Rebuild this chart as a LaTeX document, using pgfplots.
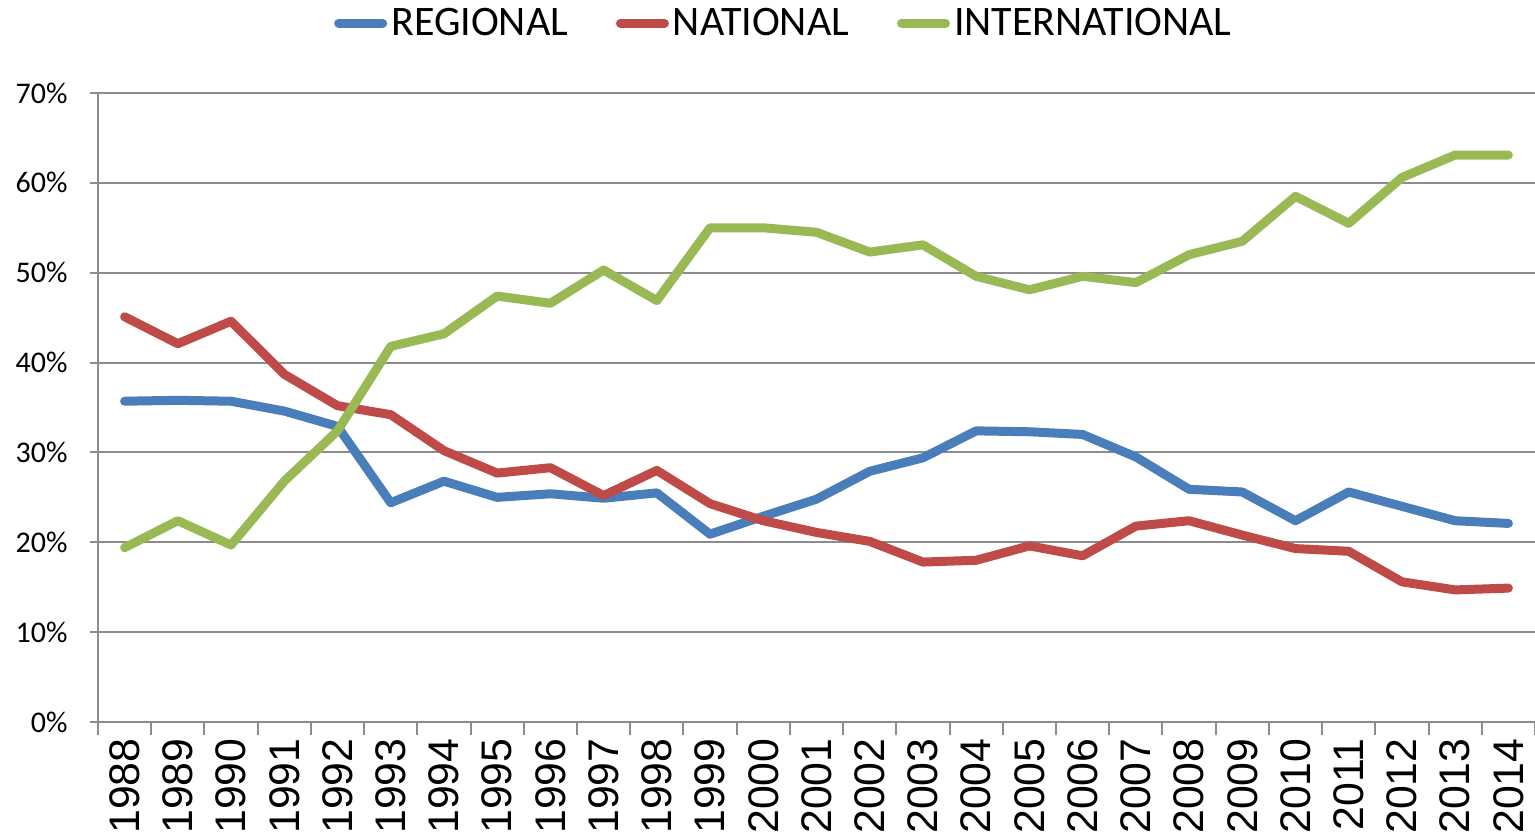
\documentclass[border=0pt]{standalone}
\usepackage{fontspec}
\setmainfont{Carlito}
\newfontfamily\arialfont{Liberation Sans}
\usepackage{pgfplots}
\usepackage{pgfplotstable}
\pgfplotsset{compat=1.18}

\definecolor{regblue}{HTML}{4A7EBB}
\definecolor{natred}{HTML}{BE4B48}
\definecolor{intgreen}{HTML}{98B954}
\definecolor{gridgray}{HTML}{8C8C8C}

% shares in percent, idx 0 = 1988
\pgfplotstableread{
idx reg  nat  int
0   35.7 45.1 19.4
1   35.8 42.1 22.4
2   35.7 44.6 19.7
3   34.6 38.7 26.8
4   32.9 35.2 32.4
5   24.4 34.2 41.8
6   26.8 30.2 43.2
7   25.0 27.7 47.4
8   25.4 28.3 46.6
9   24.9 25.2 50.3
10  25.5 28.0 46.9
11  20.9 24.3 55.0
12  22.9 22.4 55.0
13  24.8 21.1 54.5
14  27.9 20.1 52.3
15  29.4 17.8 53.1
16  32.4 18.0 49.6
17  32.3 19.6 48.1
18  32.0 18.5 49.6
19  29.5 21.8 48.9
20  25.9 22.4 52.0
21  25.6 20.8 53.5
22  22.4 19.3 58.5
23  25.6 19.0 55.5
24  24.0 15.6 60.6
25  22.4 14.7 63.1
26  22.1 14.9 63.1
}\shares

\begin{document}
\begin{tikzpicture}
\begin{axis}[
  at={(0,0)}, anchor=south west,
  scale only axis,
  width=718.5pt, height=314.5pt,
  xmin=-0.5, xmax=26.5,
  ymin=0, ymax=70,
  axis lines=left,
  axis line style={draw=gridgray, line width=1pt, -},
  tick align=outside,
  xtick={0,...,26},
  xticklabels={1988,1989,1990,1991,1992,1993,1994,1995,1996,1997,1998,1999,2000,2001,2002,2003,2004,2005,2006,2007,2008,2009,2010,2011,2012,2013,2014},
  x tick style={draw=none},
  minor xtick={-0.5,0.5,...,26.5},
  minor x tick style={draw=gridgray, line width=1pt},
  minor tick length=6.5pt,
  major tick length=4pt,
  xticklabel style={font=\arialfont\fontsize{21.4}{21.4}\selectfont, rotate=90, anchor=east, inner sep=0pt},
  xticklabel shift=4pt,
  ytick={0,10,...,70},
  yticklabels={0\%,10\%,20\%,30\%,40\%,50\%,60\%,70\%},
  y tick style={draw=gridgray, line width=1pt},
  yticklabel style={font=\fontsize{15}{15}\selectfont, anchor=east, inner sep=0pt},
  yticklabel shift=11pt,
  ymajorgrids,
  major grid style={draw=gridgray, line width=1pt},
  legend style={at={(axis description cs:0.478,1.111)}, anchor=center,
    draw=none, fill=none, legend columns=3,
    font=\fontsize{21}{21}\selectfont,
    /tikz/every even column/.append style={column sep=22pt}},
  legend image code/.code={\draw[#1, line cap=round] (0pt,0pt) -- (22pt,0pt);},
  every axis plot/.append style={line width=4.5pt, line join=round, line cap=round},
]
\addplot[regblue] table[x=idx, y=reg] {\shares};
\addplot[natred] table[x=idx, y=nat] {\shares};
\addplot[intgreen] table[x=idx, y=int] {\shares};
\legend{REGIONAL, NATIONAL, INTERNATIONAL}
\end{axis}
\pgfresetboundingbox
\path (-49pt,-57pt) rectangle (718.5pt,361pt);
\end{tikzpicture}
\end{document}
